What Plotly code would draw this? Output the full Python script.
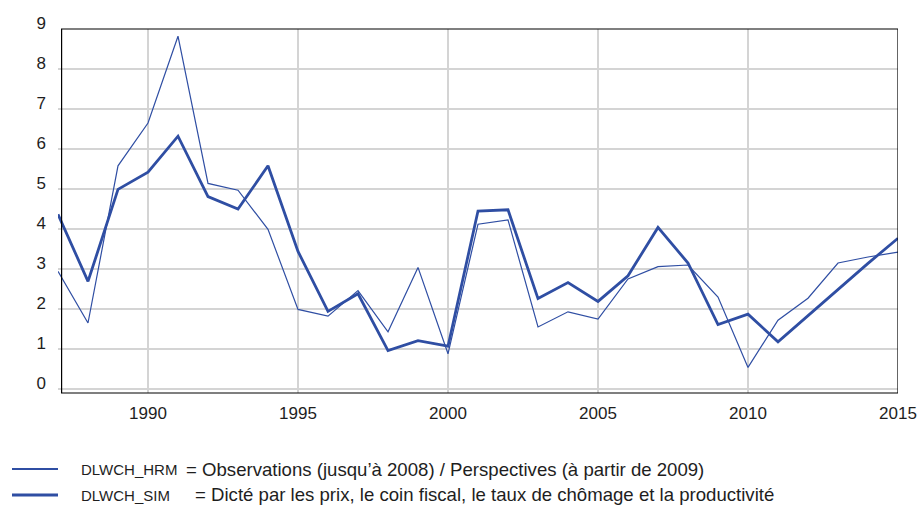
import plotly.graph_objects as go

# Annual wage growth, 1987-2015 (%)
years = list(range(1987, 2016))

dlwch_hrm = [2.94, 1.65, 5.58, 6.65, 8.82, 5.14, 4.97, 3.99, 1.99, 1.82,
             2.46, 1.43, 3.04, 0.88, 4.12, 4.23, 1.55, 1.93, 1.75, 2.75,
             3.06, 3.10, 2.30, 0.54, 1.72, 2.27, 3.15, 3.30, 3.42]

dlwch_sim = [4.37, 2.69, 4.99, 5.42, 6.32, 4.81, 4.50, 5.58, 3.44, 1.94,
             2.38, 0.96, 1.21, 1.07, 4.45, 4.48, 2.26, 2.66, 2.19, 2.83,
             4.04, 3.15, 1.61, 1.87, 1.18, 1.84, 2.49, 3.14, 3.77]

x_ticks = [1990, 1995, 2000, 2005, 2010, 2015]
y_ticks = list(range(0, 10))

legend_codes = ["DLWCH_HRM", "DLWCH_SIM"]
legend_texts = [
    "= Observations (jusqu’à 2008) / Perspectives (à partir de 2009)",
    "= Dicté par les prix, le coin fiscal, le taux de chômage et la productivité",
]

BLUE = "#2f4ea3"
GRID = "#d4d4d4"
FONT = "Liberation Sans, Arial, Helvetica, sans-serif"
TEXT = "#1e1e1e"

W, H = 920, 505
ML, MR, MT, MB = 58, 22, 29, 112
PW, PH = W - ML - MR, H - MT - MB


def px_x(p):
    return (p - ML) / PW


def px_y(p):
    return (H - MB - p) / PH


fig = go.Figure()
fig.add_trace(go.Scatter(x=years, y=dlwch_hrm, mode="lines", name=legend_codes[0],
                         line=dict(color=BLUE, width=1.2), showlegend=False))
fig.add_trace(go.Scatter(x=years, y=dlwch_sim, mode="lines", name=legend_codes[1],
                         line=dict(color=BLUE, width=2.8), showlegend=False))

shapes = [
    # plot frame
    dict(type="rect", xref="x", yref="paper", x0=1987.12, x1=2015, y0=0, y1=1,
         line=dict(color="black", width=1.2), layer="above"),
]

annotations = []
legend_rows = [(469, 1.8, 184), (495, 2.8, 193)]
for (row_y, lw, eq_x), code, txt in zip(legend_rows, legend_codes, legend_texts):
    shapes.append(dict(type="line", xref="paper", yref="paper",
                       x0=px_x(12), x1=px_x(58), y0=px_y(row_y), y1=px_y(row_y),
                       line=dict(color=BLUE, width=lw)))
    annotations.append(dict(xref="paper", yref="paper", x=px_x(79), y=px_y(row_y + 1),
                            xanchor="left", yanchor="middle", text=code, showarrow=False,
                            font=dict(family=FONT, size=15, color=TEXT)))
    annotations.append(dict(xref="paper", yref="paper", x=px_x(eq_x), y=px_y(row_y),
                            xanchor="left", yanchor="middle", text=txt, showarrow=False,
                            font=dict(family=FONT, size=18.6, color=TEXT)))

fig.update_layout(
    width=W, height=H,
    margin=dict(l=ML, r=MR, t=MT, b=MB, pad=0, autoexpand=False),
    paper_bgcolor="white", plot_bgcolor="white",
    font=dict(family=FONT, size=16, color=TEXT),
    xaxis=dict(range=[1987, 2015], tickvals=x_ticks, showgrid=True, gridcolor=GRID,
               gridwidth=2, zeroline=False, showline=False, ticks="", automargin=False,
               tickfont=dict(size=17), ticklabelstandoff=8),
    yaxis=dict(range=[-0.1, 9], tickvals=y_ticks, showgrid=True, gridcolor=GRID,
               gridwidth=2, zeroline=False, showline=False, ticks="", automargin=False,
               tickfont=dict(size=17), ticklabelstandoff=11, ticklabelshift=-6),
    shapes=shapes,
    annotations=annotations,
)

fig.write_html("out.html")
